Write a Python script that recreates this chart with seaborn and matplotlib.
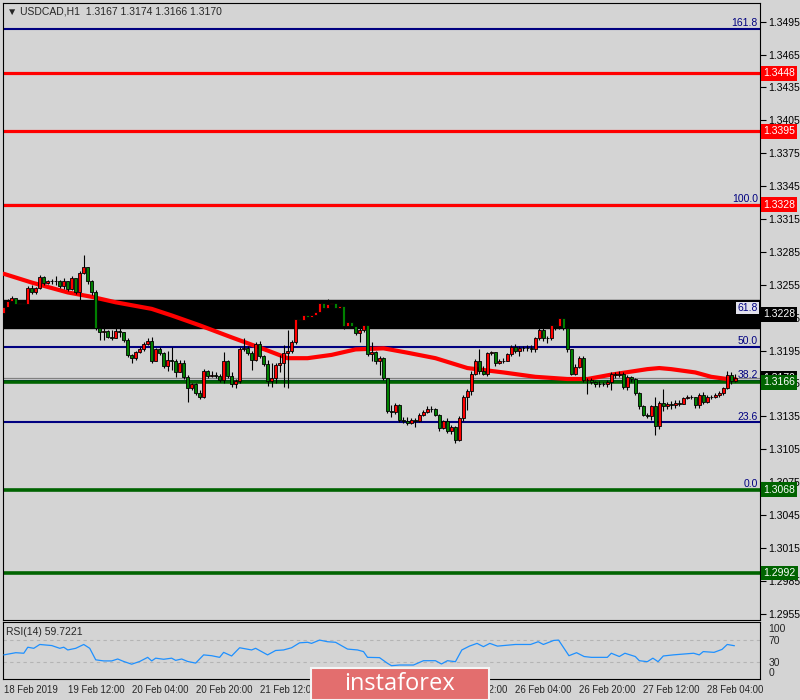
"""
USDCAD H1 - MT4 chart with Fibonacci levels, support/resistance and RSI(14)
"""
import numpy as np
import pandas as pd
import matplotlib
matplotlib.use('Agg')
import matplotlib.pyplot as plt
import matplotlib.transforms as mtransforms
from matplotlib.patches import Rectangle
import seaborn as sns

# H1 bars: bar 0 = 18 Feb 20:00, last bar = 28 Feb 11:00
first_open = 1.3229
closes = [
    1.3235, 1.3240, 1.3243, 1.3237, 1.3238, 1.3237, 1.3252, 1.3248, 1.3252, 1.3262,
    1.3257, 1.3258, 1.3258, 1.3258, 1.3254, 1.3258, 1.3251, 1.3261, 1.3248, 1.3266,
    1.3271, 1.3258, 1.3248, 1.3216, 1.3212, 1.3213, 1.3207, 1.3206, 1.3213, 1.3212,
    1.3205, 1.3191, 1.3188, 1.3194, 1.3196, 1.3201, 1.3204, 1.3185, 1.3196, 1.3193,
    1.3181, 1.3186, 1.3185, 1.3175, 1.3184, 1.3171, 1.3161, 1.3164, 1.3156, 1.3153,
    1.3176, 1.3172, 1.3173, 1.3172, 1.3168, 1.3185, 1.3172, 1.3164, 1.3167, 1.3196,
    1.3197, 1.3193, 1.3186, 1.3201, 1.3190, 1.3183, 1.3167, 1.3170, 1.3182, 1.3184,
    1.3193, 1.3195, 1.3203, 1.3224, 1.3223, 1.3227, 1.3226, 1.3227, 1.3230, 1.3238,
    1.3234, 1.3237, 1.3238, 1.3234, 1.3236, 1.3217, 1.3221, 1.3217, 1.3211, 1.3214,
    1.3218, 1.3192, 1.3194, 1.3185, 1.3188, 1.3170, 1.3140, 1.3139, 1.3145, 1.3132,
    1.3131, 1.3129, 1.3132, 1.3131, 1.3136, 1.3139, 1.3142, 1.3142, 1.3136, 1.3124,
    1.3131, 1.3122, 1.3125, 1.3113, 1.3133, 1.3153, 1.3158, 1.3174, 1.3185, 1.3176,
    1.3174, 1.3193, 1.3194, 1.3184, 1.3185, 1.3185, 1.3192, 1.3198, 1.3195, 1.3197,
    1.3197, 1.3197, 1.3196, 1.3206, 1.3214, 1.3206, 1.3206, 1.3218, 1.3217, 1.3225,
    1.3216, 1.3196, 1.3174, 1.3180, 1.3188, 1.3168, 1.3168, 1.3166, 1.3164, 1.3164,
    1.3164, 1.3166, 1.3174, 1.3173, 1.3174, 1.3162, 1.3171, 1.3169, 1.3156, 1.3144,
    1.3136, 1.3135, 1.3144, 1.3126, 1.3147, 1.3144, 1.3146, 1.3145, 1.3147, 1.3146,
    1.3152, 1.3153, 1.3153, 1.3145, 1.3154, 1.3148, 1.3153, 1.3153, 1.3154, 1.3156,
    1.3161, 1.3173, 1.3167, 1.3170]
highs = [
    1.3237, 1.3242, 1.3245, 1.3240, 1.3241, 1.3239, 1.3254, 1.3255, 1.3253, 1.3264,
    1.3263, 1.3259, 1.3260, 1.3263, 1.3259, 1.3261, 1.3258, 1.3263, 1.3259, 1.3268,
    1.3282, 1.3271, 1.3259, 1.3250, 1.3216, 1.3216, 1.3214, 1.3214, 1.3216, 1.3216,
    1.3212, 1.3206, 1.3192, 1.3195, 1.3198, 1.3203, 1.3206, 1.3207, 1.3197, 1.3198,
    1.3194, 1.3195, 1.3198, 1.3187, 1.3186, 1.3186, 1.3173, 1.3165, 1.3165, 1.3159,
    1.3178, 1.3177, 1.3176, 1.3175, 1.3174, 1.3194, 1.3186, 1.3175, 1.3169, 1.3198,
    1.3206, 1.3199, 1.3195, 1.3203, 1.3204, 1.3191, 1.3186, 1.3184, 1.3184, 1.3191,
    1.3200, 1.3214, 1.3205, 1.3226, 1.3226, 1.3229, 1.3229, 1.3230, 1.3233, 1.3239,
    1.3238, 1.3242, 1.3241, 1.3239, 1.3238, 1.3237, 1.3223, 1.3223, 1.3218, 1.3216,
    1.3221, 1.3220, 1.3203, 1.3195, 1.3190, 1.3189, 1.3170, 1.3145, 1.3147, 1.3146,
    1.3134, 1.3134, 1.3133, 1.3133, 1.3138, 1.3141, 1.3144, 1.3144, 1.3143, 1.3137,
    1.3132, 1.3133, 1.3127, 1.3126, 1.3135, 1.3154, 1.3160, 1.3176, 1.3187, 1.3196,
    1.3181, 1.3194, 1.3195, 1.3194, 1.3187, 1.3188, 1.3193, 1.3200, 1.3201, 1.3199,
    1.3199, 1.3200, 1.3200, 1.3207, 1.3216, 1.3216, 1.3208, 1.3221, 1.3223, 1.3227,
    1.3226, 1.3217, 1.3196, 1.3183, 1.3190, 1.3190, 1.3170, 1.3170, 1.3167, 1.3167,
    1.3166, 1.3168, 1.3175, 1.3175, 1.3176, 1.3175, 1.3173, 1.3172, 1.3170, 1.3157,
    1.3145, 1.3138, 1.3145, 1.3153, 1.3149, 1.3160, 1.3148, 1.3149, 1.3150, 1.3150,
    1.3153, 1.3154, 1.3154, 1.3153, 1.3156, 1.3157, 1.3154, 1.3154, 1.3156, 1.3158,
    1.3162, 1.3176, 1.3175, 1.3174]
lows = [
    1.3227, 1.3234, 1.3238, 1.3236, 1.3236, 1.3234, 1.3235, 1.3247, 1.3247, 1.3251,
    1.3255, 1.3256, 1.3256, 1.3255, 1.3252, 1.3251, 1.3249, 1.3250, 1.3247, 1.3241,
    1.3265, 1.3256, 1.3246, 1.3214, 1.3205, 1.3205, 1.3206, 1.3205, 1.3206, 1.3207,
    1.3203, 1.3189, 1.3184, 1.3186, 1.3193, 1.3195, 1.3200, 1.3184, 1.3185, 1.3191,
    1.3179, 1.3176, 1.3177, 1.3171, 1.3175, 1.3169, 1.3148, 1.3159, 1.3154, 1.3151,
    1.3152, 1.3170, 1.3171, 1.3170, 1.3166, 1.3165, 1.3170, 1.3162, 1.3161, 1.3165,
    1.3195, 1.3191, 1.3177, 1.3185, 1.3188, 1.3181, 1.3163, 1.3162, 1.3165, 1.3175,
    1.3162, 1.3161, 1.3193, 1.3201, 1.3221, 1.3221, 1.3225, 1.3225, 1.3226, 1.3229,
    1.3232, 1.3233, 1.3236, 1.3232, 1.3232, 1.3215, 1.3216, 1.3216, 1.3209, 1.3203,
    1.3212, 1.3190, 1.3185, 1.3183, 1.3173, 1.3168, 1.3138, 1.3134, 1.3137, 1.3130,
    1.3129, 1.3127, 1.3128, 1.3125, 1.3130, 1.3135, 1.3138, 1.3139, 1.3135, 1.3122,
    1.3123, 1.3120, 1.3119, 1.3111, 1.3112, 1.3131, 1.3141, 1.3154, 1.3173, 1.3174,
    1.3173, 1.3172, 1.3191, 1.3181, 1.3183, 1.3184, 1.3185, 1.3190, 1.3193, 1.3190,
    1.3195, 1.3195, 1.3194, 1.3194, 1.3205, 1.3204, 1.3202, 1.3205, 1.3214, 1.3215,
    1.3214, 1.3194, 1.3173, 1.3173, 1.3179, 1.3166, 1.3155, 1.3164, 1.3162, 1.3162,
    1.3163, 1.3162, 1.3159, 1.3170, 1.3171, 1.3160, 1.3159, 1.3166, 1.3154, 1.3142,
    1.3135, 1.3133, 1.3132, 1.3118, 1.3123, 1.3140, 1.3142, 1.3142, 1.3143, 1.3144,
    1.3146, 1.3151, 1.3151, 1.3143, 1.3143, 1.3146, 1.3147, 1.3151, 1.3152, 1.3153,
    1.3154, 1.3160, 1.3164, 1.3166]

# red moving average, read at a few bars
ma_bars = [0, 7, 16, 22, 28, 37, 42, 49, 57, 66,
           71, 76, 82, 88, 95, 101, 108, 116, 125, 133,
           141, 146, 152, 161, 164, 167, 173, 177, 181, 183]
ma_values = [1.3265, 1.3257, 1.3248, 1.3244, 1.3239, 1.3233, 1.3227, 1.3218, 1.3207, 1.3195,
             1.3188, 1.3188, 1.3191, 1.3196, 1.3197, 1.3193, 1.3188, 1.3179, 1.3175, 1.3171,
             1.3169, 1.3169, 1.3173, 1.3178, 1.3179, 1.3178, 1.3175, 1.3171, 1.3169, 1.3169]

# RSI(14)
rsi_bars = [0, 3, 5, 6, 7.5, 9, 12, 14, 15, 16,
            18, 20, 21.5, 23, 25, 27, 28.5, 30, 32, 34,
            36, 37, 38, 40, 42, 43, 44.5, 46, 48, 50,
            52, 54, 55, 57, 59, 62, 63, 66, 68, 70,
            72, 74, 76, 77, 79, 81, 83, 86, 88.5, 90,
            91, 94, 96, 97, 99, 102.5, 105, 108, 109.5, 111,
            113, 114.6, 116.5, 118.4, 120, 121.6, 123.5, 125, 128, 131.8,
            133.7, 135, 137.6, 138.8, 141.4, 143.3, 145.2, 147, 151, 152,
            154, 155.4, 158, 159, 161, 162.4, 163.7, 165, 167.5, 170,
            172.6, 174, 175, 177.7, 179.7, 181, 182.8]
rsi_values = [43, 47, 46, 57, 55, 62, 60, 55, 57, 52,
              55, 62, 55, 34, 32, 32, 35.5, 31, 26, 31,
              38.5, 32, 37, 35, 37, 33, 35.5, 31, 28, 43,
              41.5, 38.5, 47.6, 41, 56, 52, 55, 43, 51, 52,
              56, 65, 66, 64, 70, 67, 66, 53.6, 52, 49,
              38.5, 38, 27.6, 23.3, 24.5, 24.5, 32.4, 32.4, 26.4, 32.4,
              30.6, 52, 59, 64, 58, 64, 59, 60, 62, 62,
              67, 62, 69.4, 70, 41.5, 47, 40, 38.5, 38.5, 46,
              40, 46, 40, 32.4, 30.6, 37, 30.6, 41, 43, 44.5,
              46, 43, 49, 47.6, 53, 62, 59.7]

# Fibonacci retracement 1.3068 -> 1.3328
fib_low = 1.3068
fib_high = 1.3328
fib_ratios = [0.0, 23.6, 38.2, 50.0, 61.8, 100.0, 161.8]

resistance = [1.3448, 1.3395, 1.3328]
support = [1.3166, 1.3068, 1.2992]
bid = 1.3170
zone_low, zone_high = 1.3216, 1.3241

price_ticks = [1.3495, 1.3465, 1.3435, 1.3405, 1.3375, 1.3345, 1.3315, 1.3285, 1.3255,
               1.3225, 1.3195, 1.3165, 1.3135, 1.3105, 1.3075, 1.3045, 1.3015, 1.2985, 1.2955]
date_bars = [0, 16, 32, 48, 64, 80, 96, 112, 128, 144, 160, 176]
date_labels = ['18 Feb 2019', '19 Feb 12:00', '20 Feb 04:00', '20 Feb 20:00', '21 Feb 12:00',
               '22 Feb 04:00', '22 Feb 20:00', '25 Feb 12:00', '26 Feb 04:00', '26 Feb 20:00',
               '27 Feb 12:00', '28 Feb 04:00']

# Colores estilo MT4
BG = '#d4d4d4'
NAVY = '#000080'
GREEN = '#006400'

sns.set_style('white', rc={'axes.facecolor': BG, 'figure.facecolor': BG,
                           'axes.edgecolor': 'black', 'axes.linewidth': 1.0})
plt.rcParams['font.family'] = ['Liberation Sans', 'DejaVu Sans']

fig = plt.figure(figsize=(8, 7), dpi=100)
ax = fig.add_axes([3 / 800, 80 / 700, 757 / 800, 617 / 700])
ax_rsi = fig.add_axes([3 / 800, 21 / 700, 757 / 800, 57 / 700])

xlim = (-0.2, 189.2)

# ---- main price panel ----
for r in fib_ratios:
    ax.axhline(fib_low + (fib_high - fib_low) * r / 100, color=NAVY, lw=1.5, zorder=2)
ax.axhspan(zone_low, zone_high, color='black', zorder=2.2)
ax.axhline(bid, color='#808080', lw=0.9, zorder=2)
for p in resistance:
    ax.axhline(p, color='red', lw=2.3, zorder=2.5)
for p in support:
    ax.axhline(p, color=GREEN, lw=2.6, zorder=2.5)

sns.lineplot(x=ma_bars, y=ma_values, ax=ax, color='red', lw=3.0, zorder=3)

# Velas
df = pd.DataFrame({'bar': np.arange(len(closes)), 'close': closes, 'high': highs, 'low': lows})
df['open'] = [first_open] + closes[:-1]
up = df['close'] >= df['open']
ax.vlines(df['bar'], df['low'], df['high'], color='black', lw=0.8, zorder=5)
ax.bar(df['bar'], (df['close'] - df['open']).abs(), bottom=df[['open', 'close']].min(axis=1),
       width=0.75, color=np.where(up, 'red', '#008000'), edgecolor='black',
       linewidth=0.6, zorder=6)

ax.set_xlim(*xlim)
ax.set_ylim(1.29491, 1.35121)
ax.set_xticks([])
ax.yaxis.tick_right()
ax.set_yticks(price_ticks)
ax.set_yticklabels([f'{p:.4f}' for p in price_ticks])
ax.tick_params(axis='y', direction='out', length=4, width=0.8, pad=2, labelsize=7.5, colors='black')
ax.set_xlabel('')
ax.set_ylabel('')

trans = mtransforms.blended_transform_factory(ax.transAxes, ax.transData)

# Etiquetas Fibonacci
for r in fib_ratios:
    level = fib_low + (fib_high - fib_low) * r / 100
    box = dict(boxstyle='square,pad=0.1', fc='#e2e2ec', ec='none') if r == 61.8 else None
    ax.text(0.997, level + 0.00008, f'{r:.1f}', transform=trans, ha='right', va='bottom',
            color=NAVY, fontsize=7.5, bbox=box, zorder=8)

# Etiquetas de precio en el eje
tags = [(1.3448, 'red'), (1.3395, 'red'), (1.3328, 'red'), (1.3228, 'black'),
        (1.3170, 'black'), (1.3166, GREEN), (1.3068, GREEN), (1.2992, GREEN)]
for price, col in tags:
    ax.text(1.004, price, f'{price:.4f}', transform=trans, ha='left', va='center',
            color='white', fontsize=7.5, clip_on=False, zorder=10,
            bbox=dict(boxstyle='square,pad=0.22', fc=col, ec='none'))

fig.text(7 / 800, 1 - 11 / 700, '\u25bc USDCAD,H1  1.3167 1.3174 1.3166 1.3170',
         fontsize=7.5, va='center', ha='left')

# ---- RSI panel ----
ax_rsi.axhline(70, color='#b4b4b4', lw=0.8, ls=(0, (3, 3)), zorder=1)
ax_rsi.axhline(30, color='#b4b4b4', lw=0.8, ls=(0, (3, 3)), zorder=1)
sns.lineplot(x=rsi_bars, y=rsi_values, ax=ax_rsi, color='#1e90ff', lw=0.9, zorder=3)
ax_rsi.set_xlim(*xlim)
ax_rsi.set_ylim(-1, 103)
ax_rsi.yaxis.tick_right()
ax_rsi.set_yticks([0, 30, 70, 100])
ax_rsi.set_yticklabels(['0', '30', '70', '100'])
ax_rsi.tick_params(axis='y', direction='out', length=0, pad=6, labelsize=7.5)
rsi_ylabels = ax_rsi.get_yticklabels()
rsi_ylabels[0].set_va('bottom')
rsi_ylabels[-1].set_va('top')
ax_rsi.set_xticks(date_bars)
ax_rsi.set_xticklabels(date_labels)
for t in ax_rsi.get_xticklabels():
    t.set_ha('left')
ax_rsi.tick_params(axis='x', direction='out', length=3, width=0.8, pad=1.5, labelsize=6.9)
ax_rsi.set_xlabel('')
ax_rsi.set_ylabel('')
ax_rsi.text(0.004, 0.82, 'RSI(14) 59.7221', transform=ax_rsi.transAxes, fontsize=7.5,
            va='center', ha='left')

# Logo instaforex
fig.add_artist(Rectangle((311 / 800, 0), 178 / 800, 32 / 700, transform=fig.transFigure,
                         facecolor='#e36e6e', edgecolor='#f4f4f4', lw=1.5, zorder=20))
fig.text(400 / 800, 16 / 700, 'instaforex', color='white', fontsize=17, ha='center',
         va='center', family=['Open Sans', 'DejaVu Sans'], zorder=21)

fig.savefig('out.png', dpi=100, facecolor=BG)
